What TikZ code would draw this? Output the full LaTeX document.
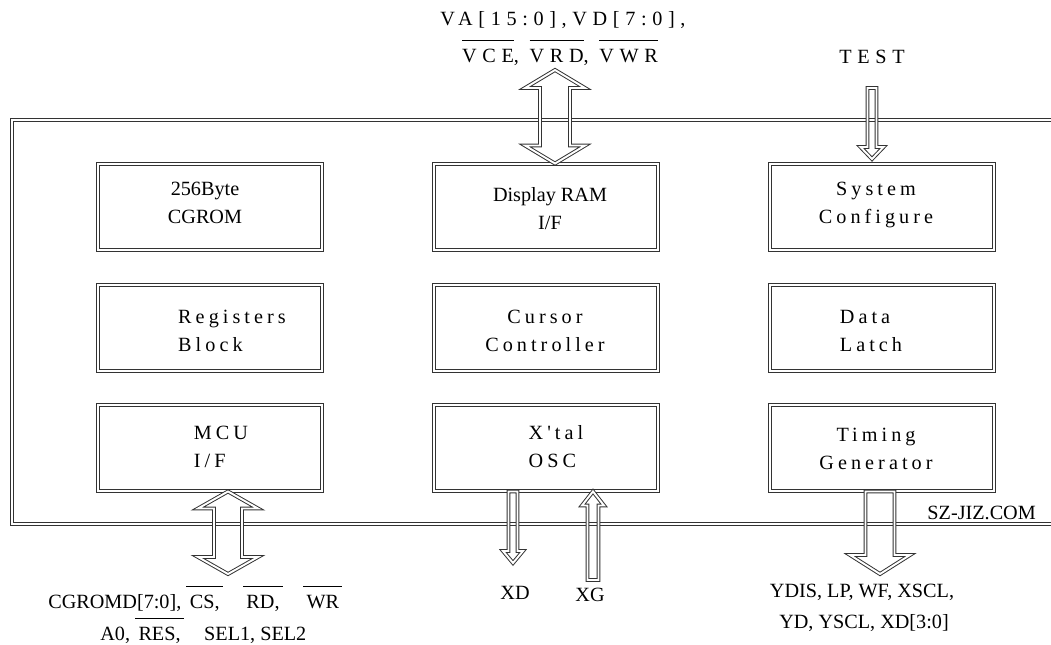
\documentclass[tikz,border=0pt]{standalone}
\usepackage{fontspec}
\setmainfont{Liberation Serif}
\newfontfamily\spaced[LetterSpace=20]{Liberation Serif}
\newfontfamily\widespaced[LetterSpace=28]{Liberation Serif}
\usetikzlibrary{calc}

\newcommand\sz{\fontsize{11.5}{16}\selectfont}
\newcommand\ovl[1]{$\overline{\mbox{\strut #1}}$}

% hollow arrow: start, tip, shaft half width, head half width, head offset
\newcommand\hollowarrow[5]{%
  \draw[dline] ($(#1)+(-#3,0)$) -- ($(#2)+(-#3,#5)$) -- ($(#2)+(-#4,#5)$) -- (#2)
    -- ($(#2)+(#4,#5)$) -- ($(#2)+(#3,#5)$) -- ($(#1)+(#3,0)$) -- cycle;}
% hollow arrow with two heads: top tip, bottom tip, shaft, head, head length
\newcommand\hollowbiarrow[5]{%
  \draw[dline] (#1) -- ($(#1)+(#4,#5)$) -- ($(#1)+(#3,#5)$) -- ($(#2)+(#3,-#5)$)
    -- ($(#2)+(#4,-#5)$) -- (#2) -- ($(#2)+(-#4,-#5)$) -- ($(#2)+(-#3,-#5)$)
    -- ($(#1)+(-#3,#5)$) -- ($(#1)+(-#4,#5)$) -- cycle;}

\tikzset{
  dline/.style={draw=black!80, double=white, double distance=1.1pt, line width=0.55pt},
  blockbox/.style={dline, rectangle, minimum width=4.48cm, minimum height=1.72cm, inner sep=0pt},
  blocktext/.style={align=left, font=\spaced\sz},
}

\begin{document}
\begin{tikzpicture}[x=0.02cm, y=-0.02cm, font=\sz]
\useasboundingbox (0,0) rectangle (1051,645);

% --- outer frame ---
\draw[dline] (1051,120) -- (12,120) -- (12,524) -- (1051,524);

% --- blocks ---
\node[blockbox] (cgrom)   at (210,207) {};
\node[blockbox] (dram)    at (546,207) {};
\node[blockbox] (sysconf) at (882,207) {};
\node[blockbox] (regs)    at (210,328) {};
\node[blockbox] (cursor)  at (546,328) {};
\node[blockbox] (latch)   at (882,328) {};
\node[blockbox] (mcu)     at (210,448) {};
\node[blockbox] (xtal)    at (546,448) {};
\node[blockbox] (timing)  at (882,448) {};

\node[align=center] at ([shift={(-5,-4)}]cgrom.center) {256Byte\\CGROM};
\node[align=center] at ([shift={(4,2)}]dram.center) {Display RAM\\I/F};
\node[blocktext, align=center] at ([shift={(-6,-2)}]sysconf.center) {System\\Configure};
\node[blocktext] at ([shift={(22,3)}]regs.center) {Registers\\Block};
\node[blocktext, align=center] at ([shift={(-1,3)}]cursor.center) {Cursor\\Controller};
\node[blocktext] at ([shift={(-11,3)}]latch.center) {Data\\Latch};
\node[blocktext] at ([shift={(11,-1)}]mcu.center) {MCU\\I/F};
\node[blocktext] at ([shift={(10,-1)}]xtal.center) {X'tal\\OSC};
\node[blocktext, align=center] at ([shift={(-6,1)}]timing.center) {Timing\\Generator};

% --- signals ---
\node (vsig1) at (563,20) {\widespaced VA[15:0],VD[7:0],};
\node (vsig2) at (560,55) {\widespaced\ovl{VCE}, \ovl{VRD}, \ovl{VWR}};
\node (test) at (872,57) {\widespaced TEST};
\node[anchor=base west, inner sep=0pt] (msig1) at (48,608) {CGROMD[7:0],\ \ovl{\,CS,\,}\quad\ovl{\,RD,\,}\quad\ovl{\,WR\,}};
\node[anchor=base west, inner sep=0pt] (msig2) at (100,640) {A0, \ovl{\,RES,\,}\quad SEL1, SEL2};
\node (xd) at (515,593) {XD};
\node (xg) at (590,595) {XG};
\node (tsig1) at (862,592) {YDIS, LP, WF, XSCL,};
\node (tsig2) at (864,623) {YD, YSCL, XD[3:0]};
\node[anchor=east] (site) at (1042,513) {SZ-JIZ.COM};

% --- arrows ---
\coordinate (vtop) at (555,70);
\coordinate (vbot) at (dram.north -| vtop);
\hollowbiarrow{vtop}{vbot}{15}{30}{18}

\coordinate (ttop) at (872,88);
\coordinate (ttip) at (872,159);
\hollowarrow{ttop}{ttip}{4.5}{11.5}{-12}

\coordinate (mtop) at (mcu.south -| 228,0);
\coordinate (mbot) at (228,574);
\hollowbiarrow{mtop}{mbot}{14}{30}{17}

\coordinate (xdtop) at (xtal.south -| 513,0);
\coordinate (xdtip) at (513,563);
\hollowarrow{xdtop}{xdtip}{4.5}{10}{-12}

\coordinate (xgbot) at (593,580);
\coordinate (xgtip) at (xtal.south -| xgbot);
\hollowarrow{xgbot}{xgtip}{5.5}{11}{14}

\coordinate (gtop) at (timing.south -| 880,0);
\coordinate (gtip) at (880,574);
\hollowarrow{gtop}{gtip}{14.5}{30}{-19}
\end{tikzpicture}
\end{document}
